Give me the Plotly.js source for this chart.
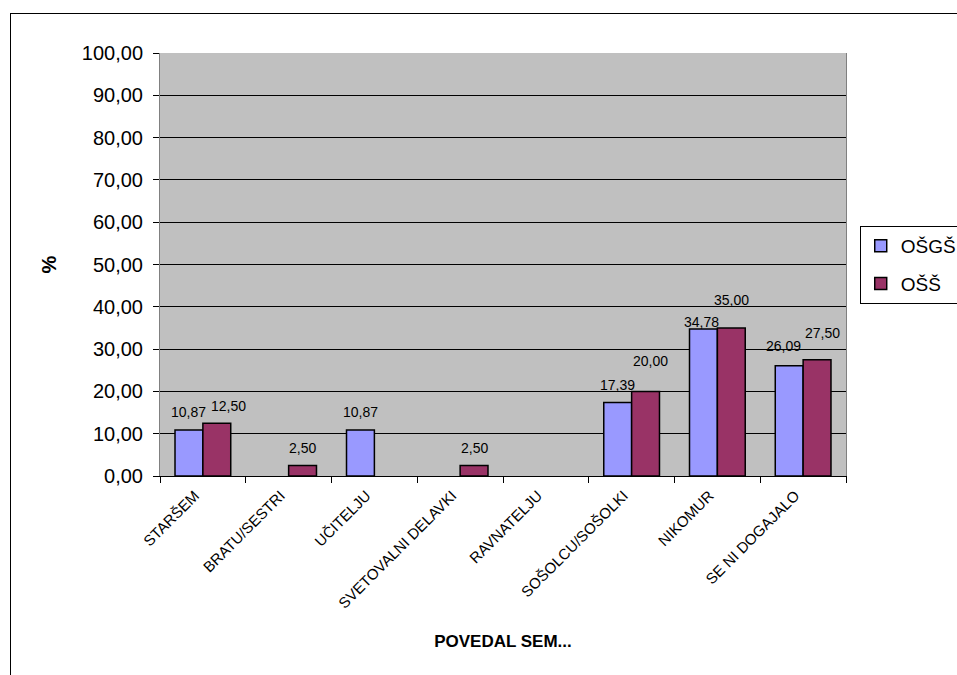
<!DOCTYPE html>
<html>
<head>
<meta charset="utf-8">
<script src="https://cdn.plot.ly/plotly-3.0.1.min.js"></script>
<style>
  html, body { margin: 0; padding: 0; background: #ffffff; overflow: hidden; }
  #wrap { position: relative; width: 957px; height: 675px; }
  #chart { position: absolute; left: 0; top: 0; width: 957px; height: 675px; }
  #frame { position: absolute; left: 10px; top: 13px; width: 1000px; height: 720px;
           border: 1px solid #000; pointer-events: none; }
</style>
</head>
<body>
<div id="wrap">
  <div id="chart"></div>
  <div id="frame"></div>
</div>
<script>
// ---- data ----
const categories = ["STARŠEM", "BRATU/SESTRI", "UČITELJU", "SVETOVALNI DELAVKI",
                    "RAVNATELJU", "SOŠOLCU/SOŠOLKI", "NIKOMUR", "SE NI DOGAJALO"];
const seriesNames = ["OŠGŠ", "OŠŠ"];
const valuesOSGS = [10.87, null, 10.87, null, null, 17.39, 34.78, 26.09];
const valuesOSS  = [12.50, 2.50, null, 2.50, null, 20.00, 35.00, 27.50];
const yTickValues = [0, 10, 20, 30, 40, 50, 60, 70, 80, 90, 100];

// ---- label nudges (px, style only) ----
const labelLiftOSGS = [18, 0, 18, 0, 0, 17, 7, 20];
const labelLiftOSS  = [17, 17, 0, 17, 0, 30, 28, 27];
const labelNudgeOSGS = [0, 0, 0, 0, 0, 0, -2, -6];
const labelNudgeOSS  = [12, 0, 0, 0, 0, 5, 0, 5];

const FONT = "Liberation Sans, Arial, sans-serif";
const fmt = v => v.toFixed(2).replace(".", ",");

const traces = [
  { type: "bar", name: seriesNames[0], x: categories, y: valuesOSGS,
    marker: { color: "#9999FF", line: { color: "#000000", width: 1.5 } },
    legendgroup: "a", hoverinfo: "x+y" },
  { type: "bar", name: seriesNames[1], x: categories, y: valuesOSS,
    marker: { color: "#993366", line: { color: "#000000", width: 1.5 } },
    legendgroup: "b", hoverinfo: "x+y" }
];

const plotW = 957 - 160 - 111;
const barHalf = (plotW / categories.length) * 0.325 / 2;

const annotations = [];
function addLabels(vals, lift, nudge, side) {
  vals.forEach((v, i) => {
    if (v === null) return;
    annotations.push({
      x: categories[i], y: v, xref: "x", yref: "y",
      text: fmt(v), showarrow: false, yanchor: "middle", xanchor: "center",
      xshift: side * barHalf + nudge[i], yshift: lift[i],
      font: { family: FONT, size: 14, color: "#000000" }
    });
  });
}
addLabels(valuesOSGS, labelLiftOSGS, labelNudgeOSGS, -1);
addLabels(valuesOSS, labelLiftOSS, labelNudgeOSS, 1);

const layout = {
  width: 957, height: 675,
  margin: { l: 160, r: 111, t: 53, b: 199, autoexpand: false },
  paper_bgcolor: "rgba(0,0,0,0)",
  plot_bgcolor: "#C0C0C0",
  separators: ",.",
  barmode: "group",
  bargap: 0.35,
  bargroupgap: 0,
  font: { family: FONT, color: "#000000" },
  showlegend: true,
  legend: {
    x: 1.02, xanchor: "left", y: 0.591, yanchor: "top",
    bgcolor: "#ffffff", bordercolor: "#000000", borderwidth: 1,
    font: { family: FONT, size: 19, color: "#000000" },
    traceorder: "grouped", tracegroupgap: 10
  },
  xaxis: {
    type: "category",
    tickangle: -45,
    tickfont: { family: FONT, size: 15, color: "#000000" },
    ticks: "outside", ticklen: 6, tickcolor: "#000000", tickson: "boundaries",
    ticklabelshift: -8, ticklabelstandoff: 4,
    showline: true, linecolor: "#000000", linewidth: 1,
    showgrid: false, zeroline: false,
    title: { text: "POVEDAL SEM...", font: { family: FONT, size: 17, color: "#000000", weight: "bold" }, standoff: 24 }
  },
  yaxis: {
    range: [0, 100], tickvals: yTickValues, tickformat: ".2f",
    tickfont: { family: FONT, size: 20, color: "#000000" },
    ticks: "outside", ticklen: 6, tickcolor: "#000000", ticklabelstandoff: 6,
    showline: true, linecolor: "#808080", linewidth: 1, mirror: true,
    showgrid: true, gridcolor: "#000000", gridwidth: 1,
    zeroline: false,
    title: { text: "%", font: { family: FONT, size: 20, color: "#000000", weight: "bold" }, standoff: 19 }
  },
  annotations: annotations
};

Plotly.newPlot("chart", traces, layout, { displayModeBar: false, staticPlot: true });
</script>
</body>
</html>
